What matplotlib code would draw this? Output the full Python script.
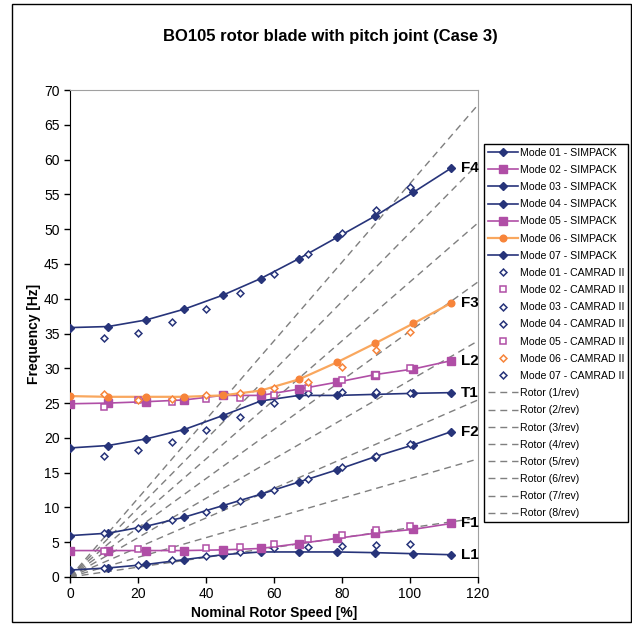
import matplotlib
matplotlib.use("Agg")
import matplotlib.pyplot as plt
from matplotlib.patches import Rectangle
import numpy as np

plt.rcParams['font.family'] = ['Liberation Sans', 'DejaVu Sans']

# ---------------- data ----------------
simpack_speed = [0, 11.2, 22.4, 33.6, 44.9, 56.1, 67.3, 78.5, 89.8, 101.0, 112.2]
camrad_speed = [10, 20, 30, 40, 50, 60, 70, 80, 90, 100]

sim_mode01 = [1.0, 1.3, 1.8, 2.5, 3.2, 3.6, 3.6, 3.6, 3.5, 3.35, 3.2]
sim_mode02 = [3.8, 3.8, 3.8, 3.8, 3.9, 4.1, 4.8, 5.55, 6.3, 6.85, 7.7]
sim_mode03 = [5.95, 6.3, 7.3, 8.6, 10.25, 11.9, 13.65, 15.4, 17.3, 19.0, 20.9]
sim_mode04 = [18.55, 18.9, 19.85, 21.2, 23.2, 25.3, 26.1, 26.1, 26.25, 26.4, 26.5]
sim_mode05 = [24.9, 25.0, 25.2, 25.45, 26.1, 26.1, 27.0, 28.0, 29.1, 29.9, 31.1]
sim_mode06 = [26.0, 25.9, 25.9, 25.9, 26.1, 26.8, 28.4, 30.85, 33.6, 36.45, 39.4]
sim_mode07 = [35.85, 36.0, 36.95, 38.5, 40.5, 42.9, 45.75, 48.8, 51.9, 55.3, 58.8]

cam_mode01 = [1.3, 1.7, 2.4, 3.0, 3.6, 4.1, 4.3, 4.45, 4.65, 4.8]
cam_mode02 = [3.8, 4.0, 4.0, 4.1, 4.25, 4.7, 5.4, 6.1, 6.75, 7.4]
cam_mode03 = [6.3, 7.0, 8.15, 9.4, 10.95, 12.5, 14.1, 15.8, 17.4, 19.1]
cam_mode04 = [17.35, 18.2, 19.45, 21.1, 22.95, 24.95, 26.4, 26.6, 26.6, 26.5]
cam_mode05 = [24.5, 25.4, 25.2, 25.55, 25.8, 26.2, 27.2, 28.3, 29.0, 30.0]
cam_mode06 = [26.25, 25.4, 25.55, 26.1, 26.4, 27.2, 28.0, 30.2, 32.6, 35.2]
cam_mode07 = [34.3, 35.1, 36.6, 38.5, 40.8, 43.5, 46.4, 49.5, 52.75, 56.1]

rotor_speed = [0, 120]
rotor_freq_100 = 7.07  # Hz at 100 % rotor speed
rotor_orders = [1, 2, 3, 4, 5, 6, 7, 8]

mode_labels = ["L1", "F1", "F2", "T1", "L2", "F3", "F4"]
x_ticks = [0, 20, 40, 60, 80, 100, 120]
y_ticks = [0, 5, 10, 15, 20, 25, 30, 35, 40, 45, 50, 55, 60, 65, 70]

# ---------------- style ----------------
NAVY = "#27347A"
PINK = "#B04EA6"
ORANGE = "#F7843A"
ORANGE_LINE = "#F9A75E"
GRAY = "#7F7F7F"

fig = plt.figure(figsize=(6.32, 6.24), dpi=100)
ax = fig.add_axes([70/632, 1-577/624, (478-70)/632, (577-90)/624])

sim_sets = [sim_mode01, sim_mode02, sim_mode03, sim_mode04, sim_mode05, sim_mode06, sim_mode07]
cam_sets = [cam_mode01, cam_mode02, cam_mode03, cam_mode04, cam_mode05, cam_mode06, cam_mode07]
line_cols = [NAVY, PINK, NAVY, NAVY, PINK, ORANGE_LINE, NAVY]
mk_cols = [NAVY, PINK, NAVY, NAVY, PINK, ORANGE, NAVY]
sim_markers = ["D", "s", "D", "D", "s", "o", "D"]
sim_msize = [3.7, 5.2, 3.7, 3.7, 5.2, 4.8, 3.7]
cam_markers = ["D", "s", "D", "D", "s", "D", "D"]
cam_msize = [3.5, 4.3, 3.5, 3.5, 4.3, 3.5, 3.5]

handles = []
for i, ys in enumerate(sim_sets):
    h, = ax.plot(simpack_speed, ys, color=line_cols[i], lw=1.2 if i != 5 else 1.6,
                 marker=sim_markers[i], ms=sim_msize[i], mfc=mk_cols[i], mec=mk_cols[i],
                 label=f"Mode {i+1:02d} - SIMPACK", zorder=4)
    handles.append(h)
for i, ys in enumerate(cam_sets):
    h, = ax.plot(camrad_speed, ys, ls="none", marker=cam_markers[i], ms=cam_msize[i],
                 mfc="white", mec=mk_cols[i], mew=1.1,
                 label=f"Mode {i+1:02d} - CAMRAD II", zorder=5)
    handles.append(h)
rs = np.array(rotor_speed, dtype=float)
for n in rotor_orders:
    h, = ax.plot(rs, n * rotor_freq_100 * rs / 100.0, color=GRAY, lw=1.0,
                 ls=(0, (5, 3.5)), label=f"Rotor ({n}/rev)", zorder=2)
    handles.append(h)

for lab, ys in zip(mode_labels, sim_sets):
    ax.annotate(lab, (simpack_speed[-1], ys[-1]), xytext=(7, 0), textcoords="offset points",
                ha="left", va="center", fontsize=11, fontweight="bold", zorder=6,
                annotation_clip=False)

ax.set_xlim(0, 120)
ax.set_ylim(0, 70)
ax.set_xticks(x_ticks)
ax.set_yticks(y_ticks)
ax.tick_params(direction="out", length=4, width=1, labelsize=10, colors="black")
ax.spines["left"].set_color("black")
ax.spines["bottom"].set_color("black")
ax.spines["top"].set_color("#A0A0A0")
ax.spines["right"].set_color("#A0A0A0")
ax.set_xlabel("Nominal Rotor Speed [%]", fontsize=10, fontweight="bold", labelpad=3)
ax.set_ylabel("Frequency [Hz]", fontsize=10, fontweight="bold", labelpad=2)

fig.text(330 / 632, 1 - 37 / 624, "BO105 rotor blade with pitch joint (Case 3)",
         ha="center", va="center", fontsize=12, fontweight="bold")

leg = fig.legend(handles=handles, loc="upper left",
                 bbox_to_anchor=(484/632, 1 - 144/624), fontsize=7.6,
                 frameon=True, fancybox=False, edgecolor="black", framealpha=1,
                 handlelength=2.9, handletextpad=0.15, labelspacing=0.68,
                 borderpad=0.35, borderaxespad=0)
leg.get_frame().set_linewidth(1.0)

fig.patches.append(Rectangle((12/632, 2/624), (631-12)/632, (618)/624,
                             transform=fig.transFigure, fill=False, ec="black", lw=1.0))

fig.savefig("out.png", dpi=100)
